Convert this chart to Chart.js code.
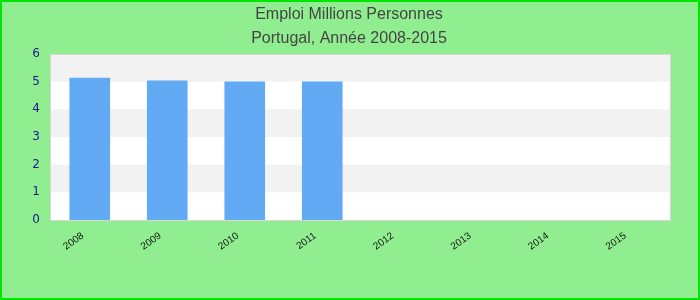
<!DOCTYPE html>
<html>
<head>
	<title>Emploi Portugal</title>
	<script src="https://cdn.jsdelivr.net/npm/chart.js@4"></script>
	<style>
		body { margin: 0; }
	</style>
</head>
<body>
	<div style="width:700px;height:300px;">
		<canvas id="chart"></canvas>
	</div>

	<script type="text/javascript">
		var annees = ['2008', '2009', '2010', '2011', '2012', '2013', '2014', '2015'];
		var emploi = [5.13, 5.03, 4.99, 4.99, null, null, null, null];
		var titre = ['Emploi Millions Personnes', 'Portugal, Année 2008-2015'];

		// fond vert + bordure + bandes grises
		var fond = {
			id: 'fond',
			beforeDraw: function (chart) {
				var ctx = chart.ctx;
				ctx.save();
				ctx.fillStyle = '#90ee90';
				ctx.fillRect(0, 0, chart.width, chart.height);
				ctx.strokeStyle = '#00e600';
				ctx.lineWidth = 2;
				ctx.strokeRect(1, 1, chart.width - 2, chart.height - 2);
				var a = chart.chartArea;
				var y = chart.scales.y;
				ctx.fillStyle = '#ffffff';
				ctx.fillRect(a.left, a.top, a.right - a.left, a.bottom - a.top);
				ctx.fillStyle = '#f2f2f2';
				for (var v = 1; v < 6; v += 2) {
					var y1 = y.getPixelForValue(v + 1);
					var y0 = y.getPixelForValue(v);
					ctx.fillRect(a.left, y1, a.right - a.left, y0 - y1);
				}
				ctx.strokeStyle = '#d6d6d6';
				ctx.lineWidth = 1;
				ctx.strokeRect(a.left - 0.5, a.top + 0.5, a.right - a.left, a.bottom - a.top);
				ctx.restore();
			}
		};

		var config = {
			type: 'bar',
			data: {
				labels: annees,
				datasets: [
					{
						label: 'Emploi',
						data: emploi,
						backgroundColor: 'rgb(99, 170, 245)',
						barThickness: 40
					}
				]
			},
			options: {
				responsive: true,
				maintainAspectRatio: false,
				animation: false,
				layout: { padding: { left: 27, right: 29, top: 0, bottom: 0 } },
				plugins: {
					legend: { display: false },
					tooltip: { enabled: false },
					title: {
						display: true,
						text: titre,
						color: '#444444',
						font: { family: 'Liberation Sans', size: 16, weight: 'normal', lineHeight: '24px' },
						padding: { top: 3, bottom: 3 }
					}
				},
				scales: {
					x: {
						grid: { display: false },
						border: { display: false },
						ticks: {
							color: '#111111',
							font: { family: 'Liberation Sans', size: 10 },
							maxRotation: 35,
							minRotation: 35,
							padding: 2,
							labelOffset: -7
						},
						afterFit: function (s) { s.height = 80; }
					},
					y: {
						min: 0,
						max: 6,
						grid: { display: false },
						border: { display: false },
						ticks: {
							stepSize: 1,
							color: '#1a1a8c',
							font: { family: 'DejaVu Sans', size: 12 },
							padding: 3
						},
						afterFit: function (s) { s.width = 24; }
					}
				}
			},
			plugins: [fond]
		};

		var ctx = document.getElementById('chart').getContext('2d');
		var chart = new Chart(ctx, config);
	</script>
</body>
</html>
